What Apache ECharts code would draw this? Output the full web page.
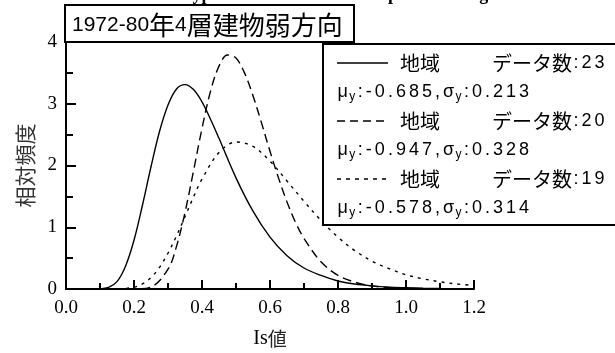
<!DOCTYPE html>
<html>
<head>
<meta charset="utf-8">
<script src="https://cdn.jsdelivr.net/npm/echarts@6/dist/echarts.min.js"></script>
<style>
  html, body { margin: 0; padding: 0; background: #fff; }
  #chart { width: 615px; height: 353px; }
</style>
</head>
<body>
<div id="chart"></div>
<script>
// values
const solidX = [0.08, 0.10, 0.125, 0.15, 0.175, 0.20, 0.225, 0.25, 0.275, 0.30, 0.325, 0.35, 0.375, 0.40, 0.425, 0.45, 0.50, 0.55, 0.60, 0.65, 0.70, 0.75, 0.80, 0.85, 0.90, 0.95, 1.00, 1.05, 1.10, 1.20]
const solidY = [0, 0.002, 0.025, 0.12, 0.37, 0.79, 1.36, 1.98, 2.55, 2.98, 3.24, 3.31, 3.23, 3.03, 2.75, 2.44, 1.80, 1.26, 0.84, 0.54, 0.34, 0.22, 0.13, 0.08, 0.05, 0.03, 0.02, 0.012, 0.007, 0.003]

const dashX = [0.18, 0.20, 0.25, 0.30, 0.325, 0.35, 0.375, 0.40, 0.425, 0.45, 0.475, 0.50, 0.525, 0.55, 0.575, 0.60, 0.625, 0.65, 0.675, 0.70, 0.75, 0.80, 0.85, 0.90, 0.95, 1.00, 1.05, 1.10, 1.20]
const dashY = [0, 0.001, 0.033, 0.32, 0.69, 1.24, 1.91, 2.60, 3.20, 3.61, 3.79, 3.74, 3.50, 3.13, 2.69, 2.23, 1.80, 1.41, 1.08, 0.82, 0.44, 0.22, 0.11, 0.05, 0.024, 0.011, 0.005, 0.002, 0.0003]

const dotX = [0.13, 0.15, 0.20, 0.225, 0.25, 0.275, 0.30, 0.325, 0.35, 0.375, 0.40, 0.45, 0.50, 0.55, 0.60, 0.65, 0.70, 0.75, 0.80, 0.85, 0.90, 0.95, 1.00, 1.05, 1.10, 1.15, 1.20]
const dotY = [0, 0.001, 0.029, 0.082, 0.185, 0.35, 0.58, 0.86, 1.17, 1.49, 1.78, 2.21, 2.38, 2.31, 2.07, 1.75, 1.42, 1.11, 0.84, 0.62, 0.45, 0.33, 0.23, 0.165, 0.116, 0.081, 0.056]

const xTickLabels = ['0.0', '0.2', '0.4', '0.6', '0.8', '1.0', '1.2']
const yTickLabels = ['0', '1', '2', '3', '4']

// legend texts
const legendRegion = ['地域', '地域', '地域']
const legendCount = ['23', '20', '19']
const legendMu = ['-0.685', '-0.947', '-0.578']
const legendSigma = ['0.213', '0.328', '0.314']
const legendDash = ['solid', [8, 5], [4, 5]]

const titleText = '1972-80年4層建物弱方向'

const SANS = 'Liberation Sans'
const CJK = 'Noto Sans CJK JP'
const SERIF = 'Liberation Serif'

function pairs(xs, ys) {
  return xs.map((x, i) => [x, ys[i]])
}

// one rich token per char so the latin text gets some letter spacing
function spaced(str, style) {
  return str.split('').map(c => '{' + style + '|' + c + '}').join('')
}

function titleRich(str) {
  let out = ''
  let buf = ''
  let cur = null
  for (const c of str) {
    const t = /[\u3000-\u9fff]/.test(c) ? 'c' : 'n'
    if (cur !== null && t !== cur) { out += '{' + cur + '|' + buf + '}'; buf = '' }
    cur = t
    buf += c
  }
  if (buf) out += '{' + cur + '|' + buf + '}'
  return out
}

const chart = echarts.init(document.getElementById('chart'))

const legendRich = {
  l: { fontFamily: SANS, fontSize: 18, color: '#000', padding: [0, 1.5, 0, 1.5] },
  s: { fontFamily: SANS, fontSize: 12, color: '#000', padding: [10, 1, 0, 0] },
  c: { fontFamily: CJK, fontSize: 20, color: '#000' }
}

const graphics = []

// clipped caption at the very top
graphics.push({
  type: 'text', x: 88, y: 4, z: 50,
  style: {
    text: 'Distribution type of Is-value in the sample of the region',
    font: 'bold 18px "Liberation Serif"', fill: '#000', verticalAlign: 'bottom'
  }
})

// title box
graphics.push({
  type: 'rect', z: 100,
  shape: { x: 65, y: 5, width: 289, height: 37 },
  style: { fill: '#fff', stroke: '#000', lineWidth: 2 }
})
graphics.push({
  type: 'text', x: 72, y: 25, z: 101,
  style: {
    text: titleRich(titleText),
    rich: {
      n: { fontFamily: SANS, fontSize: 21, fill: '#000' },
      c: { fontFamily: CJK, fontSize: 26, fill: '#000' }
    },
    verticalAlign: 'middle'
  }
})

// legend box
graphics.push({
  type: 'rect', z: 100,
  shape: { x: 323, y: 44, width: 300, height: 181 },
  style: { fill: '#fff', stroke: '#000', lineWidth: 2 }
})

const rowTop = 63
const rowGap = 29
legendCount.forEach((cnt, i) => {
  const y1 = rowTop + rowGap * 2 * i
  const y2 = y1 + rowGap
  graphics.push({
    type: 'line', z: 101,
    shape: { x1: 337, y1: y1, x2: 388, y2: y1 },
    style: { stroke: '#000', lineWidth: 1.4, lineDash: legendDash[i] }
  })
  graphics.push({
    type: 'text', x: 400, y: y1, z: 101,
    style: { text: legendRegion[i], font: '20px "' + CJK + '"', fill: '#000', verticalAlign: 'middle' }
  })
  graphics.push({
    type: 'text', x: 492, y: y1, z: 101,
    style: {
      text: '{c|データ数}' + spaced(':' + cnt, 'l'),
      rich: legendRich, verticalAlign: 'middle'
    }
  })
  graphics.push({
    type: 'text', x: 336, y: y2, z: 101,
    style: {
      text: spaced('μ', 'l') + '{s|y}' + spaced(':' + legendMu[i] + ',σ', 'l') + '{s|y}' + spaced(':' + legendSigma[i], 'l'),
      rich: legendRich, verticalAlign: 'middle'
    }
  })
})

const lineBase = {
  type: 'line',
  showSymbol: false,
  smooth: 0.35,
  color: '#000',
  z: 2
}

chart.setOption({
  animation: false,
  backgroundColor: '#fff',
  grid: { left: 66, right: 141, top: 42, bottom: 64, containLabel: false, outerBoundsMode: 'none' },
  xAxis: {
    type: 'value',
    min: 0,
    max: 1.2,
    interval: 0.2,
    name: '{s|Is}{c|値}',
    nameLocation: 'middle',
    nameGap: 40,
    nameTextStyle: {
      rich: {
        s: { fontFamily: SERIF, fontSize: 20, color: '#000' },
        c: { fontFamily: CJK, fontSize: 19, color: '#222' }
      }
    },
    axisLine: { lineStyle: { color: '#000', width: 2 } },
    axisTick: { inside: true, length: 9, lineStyle: { color: '#000', width: 2 } },
    minorTick: { show: true, splitNumber: 2, length: 6, lineStyle: { color: '#000', width: 2 } },
    splitLine: { show: false },
    axisLabel: {
      formatter: (v, i) => xTickLabels[i],
      fontFamily: SERIF, fontSize: 19, color: '#000', margin: 10
    }
  },
  yAxis: {
    type: 'value',
    min: 0,
    max: 4,
    interval: 1,
    name: '相対頻度',
    nameLocation: 'middle',
    nameRotate: 90,
    nameGap: 30,
    nameTextStyle: { fontFamily: CJK, fontSize: 21, color: '#333' },
    axisLine: { show: true, lineStyle: { color: '#000', width: 2 } },
    axisTick: { inside: true, length: 10, lineStyle: { color: '#000', width: 2 } },
    minorTick: { show: true, splitNumber: 2, length: 7, lineStyle: { color: '#000', width: 2 } },
    splitLine: { show: false },
    axisLabel: {
      formatter: (v, i) => yTickLabels[i],
      fontFamily: SERIF, fontSize: 19, color: '#000', margin: 9
    }
  },
  series: [
    Object.assign({}, lineBase, {
      name: 'solid',
      data: pairs(solidX, solidY),
      lineStyle: { color: '#000', width: 1.4, type: 'solid' }
    }),
    Object.assign({}, lineBase, {
      name: 'dash',
      data: pairs(dashX, dashY),
      lineStyle: { color: '#000', width: 1.4, type: [9, 5] }
    }),
    Object.assign({}, lineBase, {
      name: 'dot',
      data: pairs(dotX, dotY),
      lineStyle: { color: '#000', width: 1.4, type: [3, 5] }
    })
  ],
  graphic: graphics
})
</script>
</body>
</html>
